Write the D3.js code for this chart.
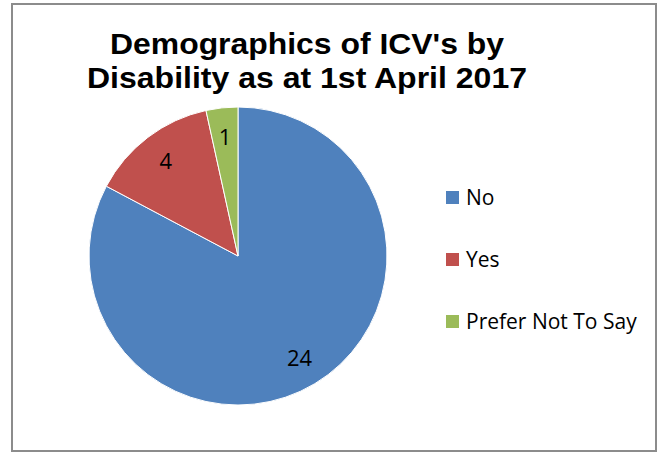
<!DOCTYPE html>
<html>
<head>
<meta charset="utf-8">
<script src="https://cdn.jsdelivr.net/npm/d3@7"></script>
<style>
  body { margin: 0; background: #fff; }
</style>
</head>
<body>
<div class="chart"></div>
<script>
const categories = ["No", "Yes", "Prefer Not To Say"]
const values = [24, 4, 1]
const colors = ["#4F81BD", "#C0504D", "#9BBB59"]
const titleLines = ["Demographics of ICV's by", "Disability as at 1st April 2017"]

const width = 662, height = 455

const svg = d3.select(".chart").append("svg")
  .attr("width", width)
  .attr("height", height)

// chart border
svg.append("rect")
  .attr("x", 12).attr("y", 4)
  .attr("width", 644).attr("height", 447)
  .attr("fill", "#fff")
  .attr("stroke", "#8c8c8c")
  .attr("stroke-width", 2)

// title, stretched a little to match the wide look of the original
const titleLen = [394, 440]
svg.selectAll(".title").data(titleLines).enter().append("text")
  .attr("class", "title")
  .attr("x", 307)
  .attr("y", (d, i) => 54 + i * 34)
  .attr("text-anchor", "middle")
  .attr("font-family", "Liberation Sans, Arial, sans-serif")
  .attr("font-weight", "bold")
  .attr("font-size", "30px")
  .attr("textLength", (d, i) => titleLen[i])
  .attr("lengthAdjust", "spacingAndGlyphs")
  .attr("fill", "#000")
  .text(d => d)

const data = categories.map((c, i) => ({cat: c, value: values[i]}))
const color = d3.scaleOrdinal().domain(categories).range(colors)

const radius = 149
const g = svg.append("g").attr("transform", "translate(238,256)")

const pie = d3.pie().sort(null).value(d => d.value)
const arc = d3.arc().innerRadius(0).outerRadius(radius)
const labelArc = d3.arc().innerRadius(radius * 0.8).outerRadius(radius * 0.8)

const arcs = pie(data)

g.selectAll("path").data(arcs).enter().append("path")
  .attr("d", arc)
  .attr("fill", d => color(d.data.cat))
  .attr("stroke", "#fff")
  .attr("stroke-width", 1)

g.selectAll(".lbl").data(arcs).enter().append("text")
  .attr("class", "lbl")
  .attr("transform", d => `translate(${labelArc.centroid(d)})`)
  .attr("text-anchor", "middle")
  .attr("dy", "0.36em")
  .attr("font-family", "Open Sans, sans-serif")
  .attr("font-size", "22px")
  .attr("fill", "#000")
  .text(d => d.data.value)

// legend
const legend = svg.append("g")
legend.selectAll("rect").data(categories).enter().append("rect")
  .attr("x", 446)
  .attr("y", (d, i) => 191 + i * 62)
  .attr("width", 13).attr("height", 13)
  .attr("fill", d => color(d))

legend.selectAll("text").data(categories).enter().append("text")
  .attr("x", 466)
  .attr("y", (d, i) => 205 + i * 62)
  .attr("font-family", "Open Sans, sans-serif")
  .attr("font-size", "21px")
  .attr("fill", "#000")
  .text(d => d)
</script>
</body>
</html>
